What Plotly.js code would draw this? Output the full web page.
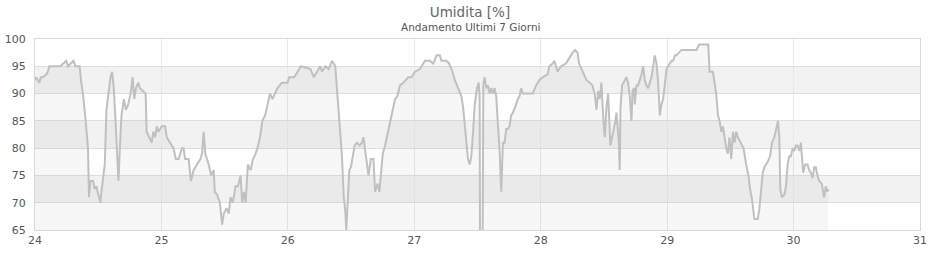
<!DOCTYPE html>
<html>
<head>
<meta charset="utf-8">
<script src="https://cdn.plot.ly/plotly-3.0.1.min.js"></script>
<style>html,body{margin:0;padding:0;background:#fff;}#chart{width:940px;height:260px;}</style>
</head>
<body>
<div id="chart"></div>
<script>
// Data (day of month, relative humidity %)
const days = [
24.000,24.010,24.034,24.045,24.061,24.088,24.101,24.114,24.200,24.247,24.260,24.305,24.320,24.353,24.366,24.379,24.401,24.419,24.427,24.438,
24.459,24.472,24.485,24.499,24.517,24.525,24.552,24.565,24.578,24.597,24.610,24.623,24.637,24.650,24.660,24.671,24.684,24.703,24.719,24.737,
24.756,24.772,24.785,24.798,24.817,24.830,24.857,24.875,24.883,24.905,24.923,24.936,24.950,24.963,24.976,25.003,25.029,25.042,25.069,25.095,
25.114,25.135,25.162,25.175,25.188,25.215,25.233,25.255,25.281,25.308,25.321,25.334,25.347,25.374,25.393,25.414,25.422,25.440,25.462,25.480,
25.493,25.515,25.533,25.546,25.565,25.573,25.586,25.605,25.626,25.639,25.653,25.666,25.684,25.706,25.724,25.745,25.759,25.780,25.798,25.820,
25.838,25.859,25.878,25.897,25.918,25.952,25.997,26.011,26.050,26.077,26.103,
26.178,26.205,26.231,26.257,26.270,26.297,26.323,26.349,26.375,26.388,26.402,26.428,26.441,26.454,26.462,26.472,26.486,26.499,26.512,26.528,
26.546,26.567,26.585,26.598,26.612,26.638,26.656,26.677,26.690,26.709,26.724,26.738,26.751,26.769,26.787,26.808,26.829,26.848,26.866,26.887,
26.913,26.953,26.979,27.005,27.045,27.084,27.123,27.150,27.176,27.202,27.215,27.255,27.276,27.302,27.320,27.346,27.373,27.386,27.399,27.412,
27.425,27.438,27.451,27.465,27.478,27.496,27.509,27.517,27.520,27.540,27.546,27.556,27.570,27.583,27.596,27.609,27.622,27.635,27.648,27.661,
27.675,27.688,27.701,27.714,27.727,27.740,27.753,27.766,27.780,27.806,27.819,27.832,27.845,27.858,27.911,27.937,27.963,27.990,28.016,28.055,
28.068,28.094,28.108,28.121,28.134,28.160,28.199,28.226,28.252,28.273,28.291,28.304,
28.335,28.361,28.388,28.409,28.427,28.441,28.454,28.467,28.480,28.488,28.499,28.507,28.520,28.533,28.541,28.551,28.565,28.580,28.591,28.599,
28.607,28.617,28.625,28.631,28.644,28.665,28.678,28.691,28.704,28.718,28.726,28.739,28.744,28.757,28.770,28.784,28.797,28.810,28.823,28.836,
28.850,28.863,28.876,28.889,28.902,28.916,28.929,28.942,28.955,28.968,28.982,28.995,29.008,29.021,29.034,29.047,29.061,29.074,29.092,29.113,
29.232,29.253,29.325,29.336,29.362,29.375,29.388,29.402,29.415,29.428,29.441,29.454,29.467,29.480,29.493,29.507,29.520,29.533,29.546,29.559,
29.585,29.604,29.625,29.643,29.656,29.672,29.690,29.717,29.730,29.743,29.756,29.769,29.795,29.814,29.829,29.848,29.861,29.877,29.887,29.895,
29.908,29.927,29.940,29.953,29.966,29.979,29.992,30.005,30.018,30.031,30.045,30.058,30.076,30.092,30.110,30.123,30.136,30.150,30.163,30.176,
30.189,30.202,30.223,30.241,30.255,30.268,30.275
];
const humidity = [
92.5,93,92,93,93,93.5,94,95,95,96,95,96,95,95,92,90,85,80,71,74,
74,72.5,73,71.5,70,72,77,87,90,93,94,91,85,78,74,80,86,89,87,88,
90,93,89,91,92,91,90.5,90,83,82,81,83,82,84,83,84,84,82,81,80,
78,78,80,80,78,78,74,76,77,78,79,83,79,77,75,76,72,71.5,70,66,
68,69,68,71,70,71,73,73,75,70,72,70,77,76,78,79,80,82,85,86,
88,90,89,90,91,92,92,93,93,94,95,
94.5,93,94,95,94,95,94.5,96,95,91,86,78.5,71.5,68.5,65,71,76,76.5,78,80.5,
81,80.5,81,82,79.5,75,78,78,72,73.5,72,75,79,80.5,82.5,85,87.5,89,89.5,91.5,
92,93,93,94,94.5,96,96,95.5,97,97,96,96,95.5,94,92.5,91,89.5,87.5,84,81,
78,77,78.5,83,88,91,92,89.5,60,60,91.5,93,91,91.5,90,91,90,91,89.5,84.5,
79.5,72,81,81,83.5,83.5,84,86,86.5,88,89,89.5,91,90,90,90,91.5,92.5,93,93.5,
95,95.5,96,95,94,95,95.5,96.5,97.5,98,97.5,95.5,
94,92.5,92,91.5,90,87,90.5,89,92,87.5,84,82,87.5,90,84.5,80.5,82,83.5,85,86.5,
84,81.5,76,87.5,91.5,92.5,93,92,89.5,85,90.5,91,88,91.5,91.5,92.5,93.5,95,92.5,91.5,
91,92,93,95,97,95.5,92,86,88,89,91.5,94.5,95,95.5,96,96,97,97,97.5,98,
98,99,99,94,94,91.5,90,86,85,83,84,82,80,79,82,78,83,81,83,82,
81,80,77,75,72.5,70.5,67,67,69,72.5,75.5,76.5,77.5,78.5,81,82,83.5,85,82,72.5,
71,71.5,73,77,78.5,78.5,80,79.5,80.5,80.5,79.5,81,75.5,77,77,76,75.5,74.5,76.5,76.5,
75,74,73.5,71,73,72,72.5
];
const xTicks = [24,25,26,27,28,29,30,31];
const yTicks = [65,70,75,80,85,90,95,100];
const bandRanges = [[70,75],[80,85],[90,95]];
const titleText = 'Umidita [%]';
const subtitleText = 'Andamento Ultimi 7 Giorni';

const shapes = bandRanges.map(b => ({
  type: 'rect', xref: 'paper', yref: 'y', x0: 0, x1: 1, y0: b[0], y1: b[1],
  fillcolor: '#f2f2f2', line: {width: 0}, layer: 'below'
}));

const trace = {
  x: days, y: humidity, type: 'scatter', mode: 'lines',
  line: {color: '#c0c0c0', width: 2},
  fill: 'tozeroy', fillcolor: 'rgba(0,0,0,0.03)',
  hoverinfo: 'skip'
};

const font = 'DejaVu Sans, Verdana, sans-serif';
const layout = {
  width: 940, height: 260,
  margin: {l: 35, r: 20, t: 39, b: 30},
  paper_bgcolor: '#ffffff', plot_bgcolor: '#ffffff',
  showlegend: false,
  font: {family: font, size: 11, color: '#555'},
  title: {text: titleText, font: {family: font, size: 13.5, color: '#666'},
          x: 0.5, xref: 'container', xanchor: 'center', y: 1 - 12/260, yref: 'container', yanchor: 'middle'},
  annotations: [{text: subtitleText, xref: 'paper', yref: 'paper', x: (470-35)/885, y: (230-27)/191,
    xanchor: 'center', yanchor: 'middle', showarrow: false,
    font: {family: font, size: 10.5, color: '#555'}}],
  xaxis: {range: [24, 31], tickvals: xTicks, ticktext: xTicks.map(String),
    showgrid: true, gridcolor: '#e8e8f4', gridwidth: 1, zeroline: false,
    showline: true, linecolor: '#d8d8d8', linewidth: 1, mirror: true,
    ticks: '', tickfont: {family: font, size: 11, color: '#555'}, fixedrange: true},
  yaxis: {range: [65, 100], tickvals: yTicks, ticktext: yTicks.map(String),
    showgrid: true, gridcolor: '#dedede', gridwidth: 1, zeroline: false,
    showline: true, linecolor: '#d8d8d8', linewidth: 1, mirror: true,
    ticks: '', ticklabelstandoff: 6, tickfont: {family: font, size: 11, color: '#555'}, fixedrange: true},
  shapes: shapes
};

Plotly.newPlot('chart', [trace], layout, {displayModeBar: false, staticPlot: true});
</script>
</body>
</html>
